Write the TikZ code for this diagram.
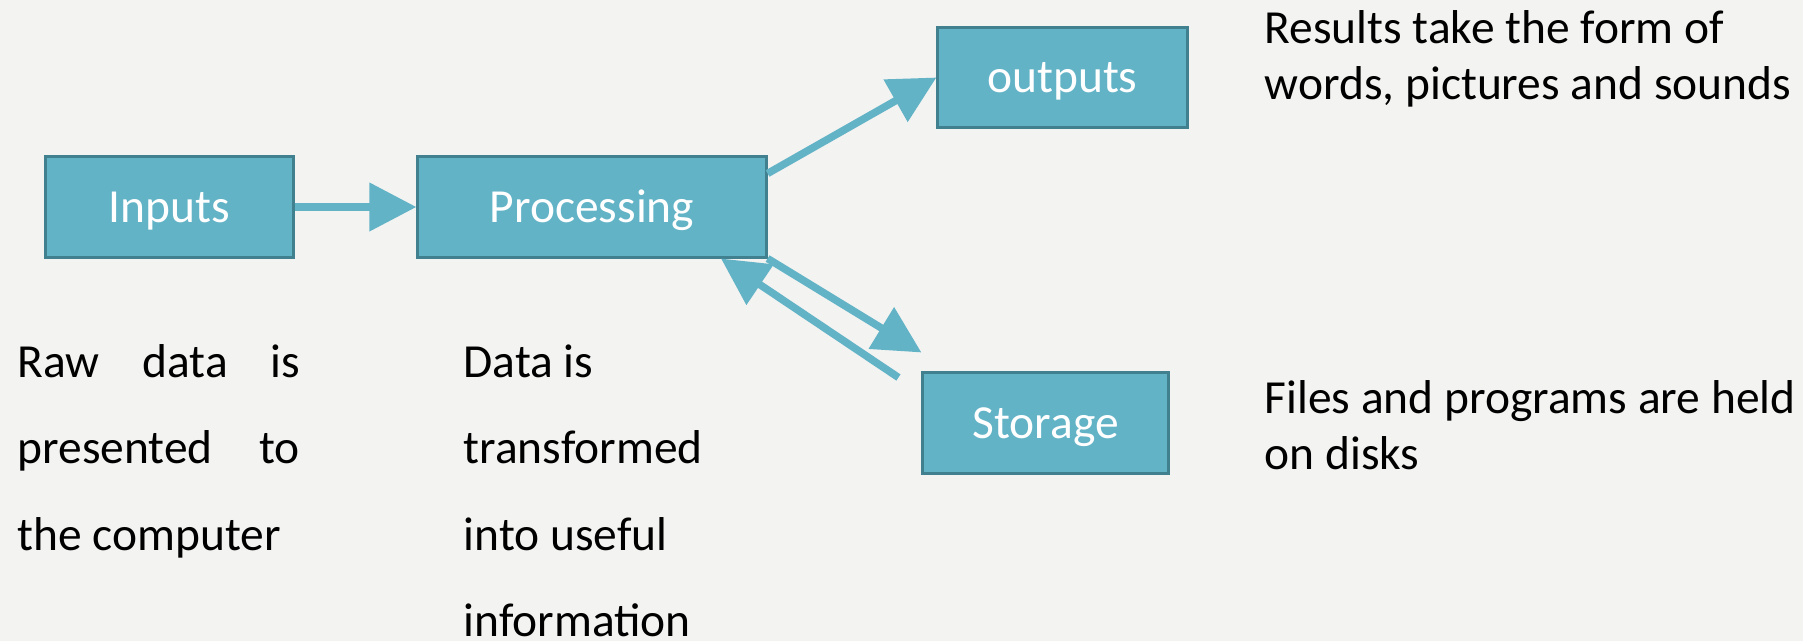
\documentclass[tikz,border=0pt]{standalone}
\usepackage{fontspec}
\setmainfont{Carlito}
\usetikzlibrary{arrows.meta,calc}
\definecolor{pagebg}{RGB}{243,243,241}
\definecolor{boxfill}{RGB}{99,179,199}
\definecolor{boxedge}{RGB}{65,128,143}
\tikzset{
    block/.style={draw=boxedge, fill=boxfill, line width=0.03cm, inner sep=0pt,
        minimum height=1cm, text=white, text height=0.3cm, text depth=0pt,
        font=\fontsize{13.5}{16}\selectfont},
    flow/.style={draw=boxfill, line width=0.075cm,
        -{Triangle[length=0.47cm,width=0.47cm]}},
    note/.style={anchor=base west, inner sep=0pt}
}
\begin{document}
\begin{tikzpicture}[x=0.01cm, y=0.01cm]
            \fill[pagebg] (0,0) rectangle (1803,641);
            \useasboundingbox (0,0) rectangle (1803,641);
                \node[block, minimum width=2.47cm] (inputs) at (169.5,434) {Inputs};
                \node[block, minimum width=3.48cm] (processing) at (592,434) {Processing};
                \node[block, minimum width=2.49cm] (outputs) at (1062.5,563.5) {outputs};
                \node[block, minimum width=2.45cm] (storage) at (1045.5,218) {Storage};
                \coordinate (out-start) at ($(processing.north east)+(0,-18)$);
                \coordinate (store-tip) at ($(storage.north west)+(0,19)$);
                \coordinate (back-start) at ($(storage.north west)+(-23,-6)$);
                \coordinate (back-tip) at ($(processing.south)+(129,0)$);
                \draw[flow] (inputs.east) -- (processing.west);
                \draw[flow] (out-start) -- (outputs.west);
                \draw[flow] (processing.south east) -- (store-tip);
                \draw[flow] (back-start) -- (back-tip);
                \node[note, font=\fontsize{13.5}{24.6}\selectfont] (raw) at (17,264)
                    {\begin{tabular}[t]{@{}l@{}}\makebox[2.82cm][s]{Raw data is}\\
                    \makebox[2.82cm][s]{presented to}\\the computer\end{tabular}};
                \node[note, font=\fontsize{13.5}{24.6}\selectfont] (transform) at (463,264)
                    {\begin{tabular}[t]{@{}l@{}}Data is\\transformed\\into useful\\information\end{tabular}};
                \node[note, font=\fontsize{13.5}{16.2}\selectfont] (results) at (1264,598)
                    {\begin{tabular}[t]{@{}l@{}}Results take the form of\\words, pictures and sounds\end{tabular}};
                \node[note, font=\fontsize{13.5}{16.2}\selectfont] (files) at (1264,228)
                    {\begin{tabular}[t]{@{}l@{}}Files and programs are held\\on disks\end{tabular}};
        \end{tikzpicture}
\end{document}
